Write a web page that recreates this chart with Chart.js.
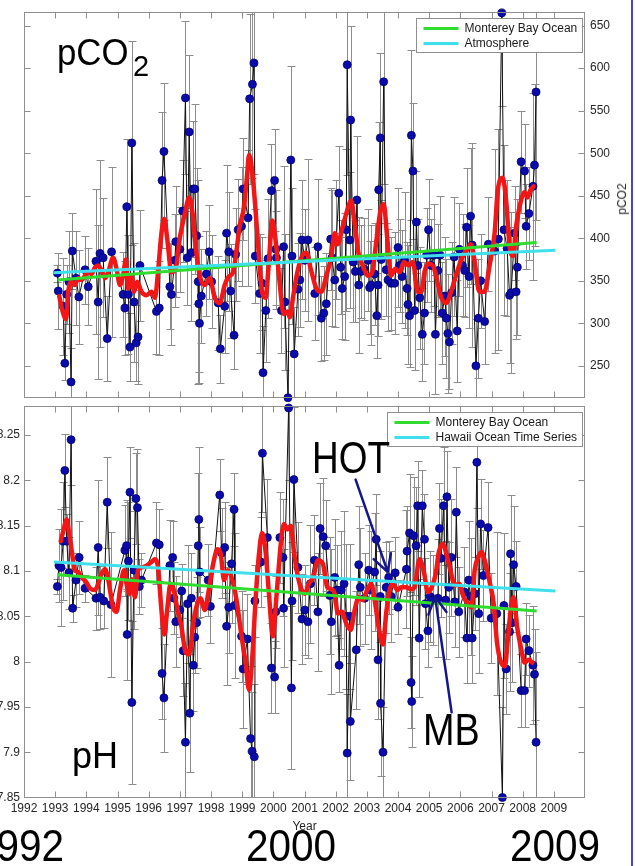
<!DOCTYPE html>
<html>
<head>
<meta charset="utf-8">
<title>Monterey Bay pCO2 and pH, 1993-2008</title>
<script src="https://cdn.jsdelivr.net/npm/chart.js@4.4.1/dist/chart.umd.min.js"></script>
<style>
  html, body { margin: 0; padding: 0; background: #fff; }
  body { width: 635px; height: 866px; position: relative; overflow: hidden;
         font-family: "Liberation Sans", Arial, sans-serif; }
  canvas { position: absolute; left: 0; }
  #pco2Chart { top: 0; width: 635px; height: 410px; }
  #phChart { top: 395px; width: 635px; height: 440px; }
  .big { position: absolute; white-space: nowrap; line-height: 1; color: #000; transform-origin: 0 0; }
  .axisTitle { position: absolute; white-space: nowrap; line-height: 1; font-size: 12px; color: #262626;
               transform: translate(-50%, -50%) rotate(-90deg); }
  .edge { position: absolute; left: 631px; top: 0; width: 2px; height: 866px; background: #4646bd; }
</style>
</head>
<body>
<canvas id="pco2Chart" width="635" height="410"></canvas>
<canvas id="phChart" width="635" height="440"></canvas>

<div class="big" style="left:57px; top:33.7px; font-size:37px; transform:scaleX(0.94);">pCO</div>
<div class="big" style="left:133px; top:51.5px; font-size:29px;">2</div>
<div class="big" style="left:72px; top:737.5px; font-size:36px;">pH</div>
<div class="big" style="left:312px; top:435.8px; font-size:44px; transform:scaleX(0.84);">HOT</div>
<div class="big" style="left:423px; top:707.8px; font-size:44px; transform:scaleX(0.86);">MB</div>
<div class="big" style="left:-26px; top:823px; font-size:45px; transform:scaleX(0.9);">1992</div>
<div class="big" style="left:246px; top:823px; font-size:45px; transform:scaleX(0.9);">2000</div>
<div class="big" style="left:510px; top:823px; font-size:45px; transform:scaleX(0.9);">2009</div>
<div class="axisTitle" style="left:622px; top:199px;">pCO2</div>
<div class="edge"></div>

<script>
// ---------- axis ticks ----------
const yearTicks = [1992,1993,1994,1995,1996,1997,1998,1999,2000,2001,2002,2003,2004,2005,2006,2007,2008,2009];
const pco2Ticks = [250,300,350,400,450,500,550,600,650];
const phTicks = [7.85,7.9,7.95,8,8.05,8.1,8.15,8.2,8.25];

// ---------- surface pCO2, Monterey Bay ----------
const pco2Years = [
  1993.07,1993.10,1993.26,1993.31,1993.37,1993.44,1993.51,1993.55,1993.67,1993.76,1993.96,1994.06,1994.31,1994.38,1994.44,1994.54,1994.67,1994.81,
  1995.18,1995.24,1995.30,1995.35,1995.40,1995.46,1995.53,1995.60,1995.66,1995.72,1996.25,1996.34,1996.43,1996.49,1996.68,1996.73,1996.84,1996.87,
  1997.00,1997.09,1997.18,1997.24,1997.30,1997.37,1997.43,1997.48,1997.54,1997.59,1997.61,1997.63,1997.69,1997.85,1997.94,
  1998.02,1998.23,1998.30,1998.44,1998.50,1998.57,1998.63,1998.74,1998.79,1998.87,1998.98,1999.03,1999.19,1999.24,1999.33,1999.38,1999.42,1999.56,
  1999.64,1999.67,1999.76,1999.83,1999.94,2000.04,2000.08,2000.10,2000.26,2000.33,2000.37,2000.47,2000.56,2000.60,2000.67,2000.79,2000.85,2000.92,
  2001.01,2001.11,2001.33,2001.43,2001.54,2001.62,2001.70,2001.84,2001.88,2001.97,2002.02,2002.10,2002.16,2002.21,2002.29,2002.34,2002.37,2002.45,
  2002.48,2002.56,2002.63,2002.68,2002.74,2002.82,2002.91,2003.04,2003.09,2003.14,2003.25,2003.32,2003.36,2003.38,2003.43,2003.46,2003.54,2003.62,
  2003.68,2003.78,2003.89,2004.00,2004.05,2004.13,2004.21,2004.29,2004.32,2004.37,2004.43,2004.48,2004.53,2004.59,2004.64,2004.70,2004.78,2004.85,
  2004.92,2004.98,2005.06,2005.15,2005.20,2005.28,2005.35,2005.42,2005.50,2005.55,2005.60,2005.65,2005.72,2005.80,2005.90,2005.97,2006.07,2006.14,
  2006.20,2006.28,2006.33,2006.38,2006.50,2006.58,2006.65,2006.78,2006.90,2007.10,2007.22,2007.33,2007.40,2007.50,2007.58,2007.63,2007.74,2007.79,
  2007.83,2007.95,2008.06,2008.11,2008.20,2008.33,2008.38,2008.43
];
const pco2Values = [
  359,338,320,253,334,349,231,385,353,331,363,343,373,325,382,377,282,384,
  334,318,437,334,272,512,325,277,284,368,314,318,468,502,343,334,374,396,
  387,432,565,377,525,383,458,458,403,349,323,300,332,358,384,
  349,324,270,320,406,384,338,286,381,410,414,458,424,564,581,606,379,335,
  347,242,315,376,456,468,387,377,315,390,325,212.5,492,379,264,340,351,398,
  374,398,335,390,306,312,323,399,377,351,398,453,366,341,355,410,604,398,
  539,372,361,445,345,361,364,374,342,345,358,309,345,457,518,375,584,363,
  351,347,347,389,368,355,374,341,322,309,521,479,315,419,368,330,287,312,
  380,410,368,380,287,362,380,312,332,306,288,278,336,378,291,387,368,362,
  413,355,426,392,250,306,350,302,393,385,399,665,410,388,333,336,406,337,
  366,490,479,414,429,461,486,572
];
const pco2Errors = [
  10,45,57,20,35,60,40,45,55,55,40,45,85,90,110,70,50,100,
  50,55,80,70,40,120,70,45,55,65,50,55,80,80,50,60,55,65,
  50,60,90,55,90,80,80,100,80,120,80,70,55,50,55,
  55,55,40,55,80,70,55,40,55,60,70,60,80,100,110,130,55,70,
  55,55,60,70,55,60,70,55,50,95,80,55,110,80,55,55,55,70,
  60,95,55,80,50,55,60,60,80,55,70,55,55,60,75,95,130,80,
  110,70,60,75,80,55,60,60,55,70,60,50,60,80,100,70,120,55,
  60,55,60,70,55,55,80,55,70,60,100,80,70,60,55,60,55,60,
  55,60,55,60,70,55,70,60,70,70,70,55,60,70,60,55,60,55,
  70,60,80,120,55,70,55,50,55,120,130,110,100,80,80,95,55,55,
  80,60,55,50,55,110,95,150
];
// smoothed pCO2 (red curve)
const pco2SmoothYears = [
  1993.13,1993.21,1993.35,1993.42,1993.53,1993.63,1993.74,1993.85,1993.96,1994.06,1994.17,1994.28,1994.38,1994.49,1994.60,1994.70,1994.86,1994.97,
  1995.08,1995.18,1995.27,1995.34,1995.45,1995.53,1995.63,1995.77,1995.93,1996.09,1996.20,1996.30,1996.41,1996.50,1996.60,1996.73,1996.87,1996.99,
  1997.16,1997.30,1997.41,1997.53,1997.64,1997.80,1997.96,1998.12,1998.28,1998.44,1998.57,1998.71,1998.81,1998.92,1999.06,1999.16,1999.22,1999.32,
  1999.43,1999.53,1999.64,1999.75,1999.85,1999.97,2000.08,2000.21,2000.33,2000.45,2000.53,2000.63,2000.77,2000.92,2001.06,2001.20,2001.38,2001.54,
  2001.70,2001.86,2001.97,2002.07,2002.20,2002.34,2002.50,2002.60,2002.73,2002.87,2003.03,2003.17,2003.31,2003.44,2003.54,2003.66,2003.78,2003.91,
  2004.05,2004.19,2004.34,2004.48,2004.63,2004.75,2004.86,2004.96,2005.12,2005.22,2005.39,2005.55,2005.70,2005.86,2006.03,2006.19,2006.34,2006.45,
  2006.61,2006.77,2006.94,2007.10,2007.20,2007.36,2007.47,2007.58,2007.69,2007.79,2007.90,2008.06,2008.16,2008.24,2008.35
];
const pco2SmoothValues = [
  332,318,305,337,349,345,353,351,356,360,358,366,368,362,353,360,377,364,
  345,356,375,341,356,337,349,337,333,337,330,360,406,423,398,360,364,398,
  429,448,429,383,356,345,353,330,324,345,355,360,383,414,437,475,498,479,
  433,383,337,330,368,421,395,345,311,314,307,330,360,379,383,364,341,337,
  356,379,406,393,410,429,444,421,383,368,356,360,398,433,440,398,356,364,
  360,372,368,372,337,337,362,370,368,356,330,324,337,356,375,385,393,375,
  337,337,368,406,456,471,444,391,379,414,437,454,448,456,461
];
// linear trends
const oceanTrendYears = [1993.07, 2008.45];
const oceanTrendPco2 = [351, 395];
const atmosphereYears = [1992.94, 2009.05];
const atmospherePco2 = [359.5, 386];

// ---------- surface pH, Monterey Bay ----------
const phYears = [
  1993.07,1993.12,1993.19,1993.26,1993.31,1993.37,1993.44,1993.51,1993.56,1993.67,1993.77,1993.96,1994.31,1994.38,1994.44,1994.56,1994.67,1994.79,
  1995.24,1995.29,1995.31,1995.35,1995.40,1995.46,1995.53,1995.59,1995.64,1995.70,1995.77,1996.25,1996.34,1996.43,1996.49,1996.68,1996.77,1996.81,
  1996.87,1997.00,1997.06,1997.11,1997.18,1997.25,1997.32,1997.37,1997.43,1997.48,1997.54,1997.59,1997.61,1997.64,1997.91,1997.98,1998.28,1998.34,
  1998.44,1998.50,1998.57,1998.66,1998.74,1998.76,1998.98,1999.03,1999.17,1999.27,1999.32,1999.39,1999.41,1999.60,1999.65,1999.81,1999.94,2000.04,
  2000.08,2000.21,2000.31,2000.33,2000.49,2000.58,2000.60,2000.66,2000.79,2000.92,2001.01,2001.11,2001.19,2001.32,2001.43,2001.50,2001.60,2001.68,
  2001.81,2001.86,2001.97,2002.04,2002.11,2002.18,2002.27,2002.34,2002.37,2002.45,2002.47,2002.66,2002.74,2002.79,2002.93,2003.06,2003.12,2003.25,
  2003.30,2003.36,2003.43,2003.44,2003.52,2003.62,2003.70,2003.78,2003.91,2004.00,2004.27,2004.29,2004.37,2004.42,2004.44,2004.50,2004.58,2004.63,
  2004.68,2004.78,2004.85,2004.88,2004.96,2005.03,2005.12,2005.28,2005.33,2005.38,2005.46,2005.53,2005.57,2005.63,2005.71,2005.82,2005.87,2005.95,
  2006.13,2006.21,2006.27,2006.33,2006.38,2006.47,2006.53,2006.59,2006.65,2006.74,2006.89,2006.99,2007.17,2007.35,2007.40,2007.47,2007.58,2007.61,
  2007.66,2007.71,2007.79,2007.95,2008.06,2008.11,2008.20,2008.33,2008.38,2008.43
];
const phValues = [
  8.083,8.106,8.104,8.133,8.211,8.133,8.098,8.245,8.059,8.090,8.115,8.081,8.070,8.126,8.071,8.067,8.176,8.063,
  8.123,8.128,8.030,8.111,8.187,7.955,8.101,8.180,8.170,8.083,8.090,8.131,8.129,7.987,7.960,8.106,8.115,8.070,
  8.044,8.057,8.078,8.012,7.911,8.064,7.943,8.070,7.996,8.027,8.043,8.128,8.157,8.099,8.090,8.061,8.184,8.120,
  8.126,8.039,8.060,8.108,8.168,8.062,8.028,7.992,8.025,7.915,7.901,7.895,8.067,8.110,8.230,8.137,7.993,7.983,
  8.055,8.137,8.115,8.059,8.280,7.971,8.067,8.201,8.104,8.047,8.057,8.044,8.086,8.112,8.055,8.147,8.138,8.128,
  8.073,8.044,8.093,8.079,7.996,8.079,8.086,8.050,7.899,8.050,7.934,8.013,8.107,8.082,8.070,8.101,8.079,8.099,
  8.135,8.002,8.072,7.954,7.900,8.082,8.093,8.072,8.098,8.060,8.102,8.122,8.142,7.977,7.956,8.139,8.128,8.172,
  8.026,8.172,8.135,8.064,8.034,8.072,8.068,8.070,8.147,8.114,8.172,8.068,8.182,8.082,8.115,8.066,8.165,8.055,
  8.077,8.026,8.090,8.072,8.026,8.075,8.220,8.053,8.152,8.095,8.148,8.048,8.053,7.850,8.062,7.992,8.033,8.119,
  8.043,8.107,8.083,7.968,7.968,8.025,8.012,7.996,7.986,7.911
];
const phErrors = [
  0.008,0.04,0.065,0.065,0.04,0.03,0.04,0.05,0.015,0.03,0.04,0.015,0.035,0.075,0.035,0.03,0.05,0.08,
  0.05,0.05,0.05,0.065,0.05,0.09,0.065,0.05,0.065,0.03,0.03,0.045,0.04,0.05,0.06,0.05,0.04,0.04,
  0.05,0.03,0.03,0.05,0.065,0.065,0.065,0.05,0.05,0.04,0.05,0.08,0.08,0.05,0.04,0.04,0.04,0.05,
  0.05,0.065,0.05,0.065,0.04,0.08,0.05,0.065,0.05,0.08,0.065,0.08,0.04,0.05,0.065,0.065,0.05,0.04,
  0.04,0.05,0.065,0.065,0.08,0.09,0.065,0.08,0.05,0.05,0.05,0.04,0.065,0.05,0.065,0.05,0.065,0.05,
  0.065,0.08,0.065,0.05,0.03,0.065,0.08,0.08,0.065,0.08,0.065,0.065,0.065,0.065,0.05,0.05,0.065,0.065,
  0.05,0.065,0.05,0.08,0.05,0.05,0.04,0.05,0.04,0.03,0.065,0.05,0.065,0.05,0.05,0.065,0.065,0.05,
  0.065,0.04,0.05,0.05,0.04,0.05,0.05,0.065,0.05,0.065,0.065,0.065,0.05,0.05,0.065,0.05,0.05,0.05,
  0.05,0.05,0.065,0.065,0.05,0.04,0.05,0.065,0.05,0.05,0.05,0.05,0.09,0.1,0.08,0.05,0.065,0.065,
  0.065,0.065,0.05,0.04,0.04,0.04,0.04,0.065,0.05,0.1
];
// smoothed pH (red curve)
const phSmoothYears = [
  1993.18,1993.26,1993.37,1993.45,1993.53,1993.63,1993.74,1993.85,1993.99,1994.12,1994.28,1994.38,1994.49,1994.60,1994.70,1994.86,1994.97,1995.08,
  1995.21,1995.29,1995.38,1995.45,1995.56,1995.66,1995.77,1995.93,1996.09,1996.20,1996.30,1996.41,1996.50,1996.60,1996.70,1996.81,1996.91,1997.05,
  1997.19,1997.30,1997.43,1997.56,1997.66,1997.80,1997.91,1998.07,1998.21,1998.31,1998.42,1998.53,1998.66,1998.82,1998.98,1999.11,1999.22,1999.32,
  1999.43,1999.54,1999.64,1999.75,1999.85,1999.99,2000.10,2000.24,2000.34,2000.45,2000.56,2000.66,2000.77,2000.90,2001.01,2001.14,2001.28,2001.43,
  2001.59,2001.73,2001.86,2001.97,2002.07,2002.20,2002.34,2002.48,2002.61,2002.74,2002.87,2003.01,2003.14,2003.27,2003.39,2003.52,2003.62,2003.73,
  2003.84,2003.98,2004.10,2004.26,2004.42,2004.53,2004.69,2004.82,2004.96,2005.07,2005.21,2005.31,2005.44,2005.55,2005.68,2005.82,2005.96,2006.11,
  2006.25,2006.36,2006.46,2006.57,2006.68,2006.78,2006.94,2007.07,2007.18,2007.32,2007.43,2007.53,2007.64,2007.71,2007.82,2007.96,2008.06,2008.20,
  2008.31
];
const phSmoothValues = [
  8.133,8.144,8.157,8.141,8.123,8.101,8.099,8.093,8.088,8.081,8.079,8.086,8.097,8.102,8.091,8.060,8.055,8.079,
  8.101,8.086,8.075,8.091,8.071,8.101,8.104,8.106,8.110,8.113,8.104,8.057,8.030,8.059,8.086,8.079,8.060,8.039,
  8.010,8.008,8.042,8.064,8.070,8.057,8.075,8.108,8.124,8.119,8.090,8.101,8.093,8.068,8.028,7.999,7.969,8.002,
  8.068,8.119,8.142,8.122,8.079,8.028,8.072,8.130,8.152,8.146,8.150,8.122,8.097,8.080,8.075,8.086,8.093,8.112,
  8.108,8.082,8.080,8.075,8.053,8.055,8.042,8.035,8.057,8.071,8.068,8.079,8.086,8.064,8.035,8.019,8.053,8.079,
  8.086,8.079,8.082,8.082,8.080,8.082,8.113,8.101,8.077,8.081,8.097,8.121,8.130,8.119,8.101,8.084,8.086,8.071,
  8.064,8.060,8.101,8.115,8.121,8.112,8.088,8.064,8.020,7.998,7.995,8.027,8.064,8.071,8.039,8.013,7.999,8.002,
  7.999
];
const phOceanTrendYears = [1993.07, 2008.45];
const phOceanTrendValues = [8.096, 8.056];
const hotTrendYears = [1992.96, 2009.05];
const hotTrendValues = [8.110, 8.078];

// annotation arrows (data coordinates: year, pH)
const pointerArrows = [
  { from: [2002.64, 8.201], to: [2003.67, 8.099] },   // HOT
  { from: [2005.72, 7.944], to: [2005.19, 8.0715] }   // MB
];

// ---------- shared styling ----------
Chart.defaults.font.family = '"Liberation Sans", Arial, sans-serif';
Chart.defaults.font.size = 12;
Chart.defaults.color = '#262626';

const RED = '#f21616', GREEN = '#2fdc2f', CYAN = '#3fe0ec', DOT = '#0b0bab';
const toPoints = (xs, ys) => xs.map((x, i) => ({ x: x, y: ys[i] }));
const asTicks = vals => vals.map(v => ({ value: v }));

// box around the plot area with inward tick marks on all four sides
function plotFrame(xTickVals, yTickVals) {
  return {
    id: 'plotFrame',
    afterDatasetsDraw(chart) {
      const { ctx, chartArea: a } = chart;
      const xs = chart.scales.x, ys = chart.scales.y;
      const L = 6;
      const l = Math.round(a.left) + 0.5, r = Math.round(a.right) - 0.5;
      const t = Math.round(a.top) + 0.5, b = Math.round(a.bottom) - 0.5;
      ctx.save();
      ctx.strokeStyle = '#8f8f8f';
      ctx.lineWidth = 1;
      ctx.strokeRect(l, t, r - l, b - t);
      ctx.beginPath();
      xTickVals.forEach(v => {
        const p = Math.round(xs.getPixelForValue(v)) + 0.5;
        if (p <= l + 1 || p >= r - 1) return;
        ctx.moveTo(p, t); ctx.lineTo(p, t + L);
        ctx.moveTo(p, b); ctx.lineTo(p, b - L);
      });
      yTickVals.forEach(v => {
        const p = Math.round(ys.getPixelForValue(v)) + 0.5;
        if (p <= t + 1 || p >= b - 1) return;
        ctx.moveTo(l, p); ctx.lineTo(l + L, p);
        ctx.moveTo(r, p); ctx.lineTo(r - L, p);
      });
      ctx.stroke();
      ctx.restore();
    }
  };
}

// vertical error bars with caps, drawn beneath the series
function errorBars(years, values, errors) {
  return {
    id: 'errorBars',
    beforeDatasetsDraw(chart) {
      const { ctx, chartArea: a } = chart;
      const xs = chart.scales.x, ys = chart.scales.y;
      ctx.save();
      ctx.beginPath();
      ctx.rect(a.left, a.top, a.right - a.left, a.bottom - a.top);
      ctx.clip();
      ctx.strokeStyle = '#8c8c8c';
      ctx.lineWidth = 1;
      ctx.beginPath();
      years.forEach((yr, i) => {
        const x = Math.round(xs.getPixelForValue(yr)) + 0.5;
        const y1 = Math.round(ys.getPixelForValue(values[i] - errors[i])) + 0.5;
        const y2 = Math.round(ys.getPixelForValue(values[i] + errors[i])) + 0.5;
        ctx.moveTo(x, y1); ctx.lineTo(x, y2);
        ctx.moveTo(x - 4, y1); ctx.lineTo(x + 4, y1);
        ctx.moveTo(x - 4, y2); ctx.lineTo(x + 4, y2);
      });
      ctx.stroke();
      ctx.restore();
    }
  };
}

// boxed legend inside the top-right corner of the plot area
const insetLegend = {
  id: 'insetLegend',
  afterDatasetsDraw(chart, args, opts) {
    const items = chart.data.datasets.filter(d => d.legendEntry);
    const { ctx, chartArea: a } = chart;
    ctx.save();
    ctx.font = '12px "Liberation Sans", Arial, sans-serif';
    const textW = Math.max(...items.map(d => ctx.measureText(d.label).width));
    const w = Math.round(7 + 35 + 6 + textW + 5), h = 34;
    const x0 = Math.round(a.right - 3 - w) + 0.5;
    const y0 = Math.round(a.top + (opts.top || 6)) + 0.5;
    ctx.fillStyle = '#fff';
    ctx.fillRect(x0, y0, w, h);
    ctx.strokeStyle = '#8f8f8f';
    ctx.lineWidth = 1;
    ctx.strokeRect(x0, y0, w, h);
    items.forEach((d, i) => {
      const cy = y0 + 10 + i * 15;
      ctx.strokeStyle = d.borderColor;
      ctx.lineWidth = 3;
      ctx.beginPath(); ctx.moveTo(x0 + 7, cy); ctx.lineTo(x0 + 42, cy); ctx.stroke();
      ctx.fillStyle = '#1a1a1a';
      ctx.textBaseline = 'middle';
      ctx.textAlign = 'left';
      ctx.fillText(d.label, x0 + 48, cy + 0.5);
    });
    ctx.restore();
  }
};

// open-headed pointer arrows
function arrows(list) {
  return {
    id: 'arrows',
    afterDatasetsDraw(chart) {
      const { ctx } = chart;
      const xs = chart.scales.x, ys = chart.scales.y;
      ctx.save();
      ctx.strokeStyle = '#15158c';
      ctx.lineWidth = 2.5;
      ctx.lineCap = 'round';
      list.forEach(ar => {
        const x1 = xs.getPixelForValue(ar.from[0]), y1 = ys.getPixelForValue(ar.from[1]);
        const x2 = xs.getPixelForValue(ar.to[0]), y2 = ys.getPixelForValue(ar.to[1]);
        const ang = Math.atan2(y1 - y2, x1 - x2);
        const head = 19, spread = 0.5;
        ctx.beginPath();
        ctx.moveTo(x1, y1); ctx.lineTo(x2, y2);
        ctx.moveTo(x2 + head * Math.cos(ang - spread), y2 + head * Math.sin(ang - spread));
        ctx.lineTo(x2, y2);
        ctx.lineTo(x2 + head * Math.cos(ang + spread), y2 + head * Math.sin(ang + spread));
        ctx.stroke();
      });
      ctx.restore();
    }
  };
}

function dataSeries(xs, ys) {
  return {
    label: 'data', data: toPoints(xs, ys), order: 4, clip: false,
    borderColor: '#111', borderWidth: 1, tension: 0,
    pointRadius: 4, pointBackgroundColor: DOT, pointBorderColor: '#00006e', pointBorderWidth: 0.8
  };
}
function smoothSeries(xs, ys) {
  return {
    label: 'smoothed', data: toPoints(xs, ys), order: 3,
    borderColor: RED, borderWidth: 4.5, pointRadius: 0,
    cubicInterpolationMode: 'monotone', borderJoinStyle: 'round', borderCapStyle: 'round'
  };
}
function trendSeries(label, xs, ys, color, order) {
  return { label: label, legendEntry: true, data: toPoints(xs, ys), order: order,
           borderColor: color, borderWidth: 3, pointRadius: 0 };
}

const common = {
  responsive: false, animation: false, events: [],
  plugins: { legend: { display: false }, tooltip: { enabled: false }, insetLegend: { top: 6 } }
};

// ---------- top panel: pCO2 ----------
new Chart(document.getElementById('pco2Chart'), {
  type: 'line',
  data: {
    datasets: [
      dataSeries(pco2Years, pco2Values),
      smoothSeries(pco2SmoothYears, pco2SmoothValues),
      trendSeries('Monterey Bay Ocean', oceanTrendYears, oceanTrendPco2, GREEN, 2),
      trendSeries('Atmosphere', atmosphereYears, atmospherePco2, CYAN, 1)
    ]
  },
  options: {
    ...common,
    layout: { padding: { left: 24, top: 7, right: 0, bottom: 7.5 } },
    scales: {
      x: { type: 'linear', display: false, min: 1992, max: 2010 },
      y: {
        type: 'linear', position: 'right', min: 212.4, max: 665.8,
        afterBuildTicks: s => { s.ticks = asTicks(pco2Ticks); },
        afterFit: s => { s.width = 50; },
        ticks: { padding: 5, callback: v => String(v) },
        grid: { display: false, drawTicks: false },
        border: { display: false }
      }
    }
  },
  plugins: [errorBars(pco2Years, pco2Values, pco2Errors), plotFrame(yearTicks, pco2Ticks), insetLegend]
});

// ---------- bottom panel: pH ----------
new Chart(document.getElementById('phChart'), {
  type: 'line',
  data: {
    datasets: [
      dataSeries(phYears, phValues),
      smoothSeries(phSmoothYears, phSmoothValues),
      trendSeries('Monterey Bay Ocean', phOceanTrendYears, phOceanTrendValues, GREEN, 2),
      trendSeries('Hawaii Ocean Time Series', hotTrendYears, hotTrendValues, CYAN, 1)
    ]
  },
  options: {
    ...common,
    layout: { padding: { left: 0, top: 7, right: 50, bottom: 0 } },
    scales: {
      x: {
        type: 'linear', position: 'bottom', min: 1992, max: 2010,
        afterBuildTicks: s => { s.ticks = asTicks(yearTicks); },
        afterFit: s => { s.height = 37.5; },
        ticks: { padding: 4, maxRotation: 0, autoSkip: false, callback: v => String(v) },
        grid: { display: false, drawTicks: false },
        border: { display: false },
        title: { display: true, text: 'Year', padding: { top: 0, bottom: 1 }, font: { size: 12 } }
      },
      y: {
        type: 'linear', position: 'left', min: 7.85, max: 8.282,
        afterBuildTicks: s => { s.ticks = asTicks(phTicks); },
        afterFit: s => { s.width = 24; },
        ticks: { padding: 4, callback: v => String(v) },
        grid: { display: false, drawTicks: false },
        border: { display: false }
      }
    }
  },
  plugins: [errorBars(phYears, phValues, phErrors), plotFrame(yearTicks, phTicks), insetLegend, arrows(pointerArrows)]
});
</script>
</body>
</html>
